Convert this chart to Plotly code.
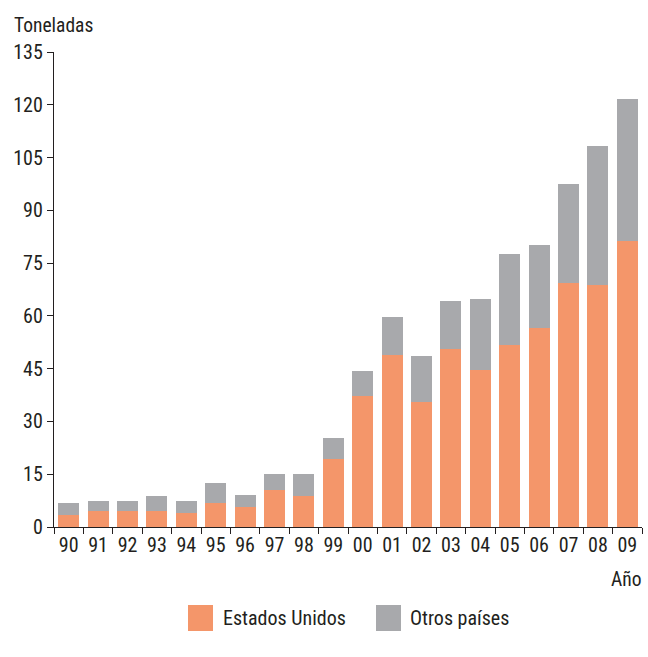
import plotly.graph_objects as go

years = ["90", "91", "92", "93", "94", "95", "96", "97", "98", "99",
         "00", "01", "02", "03", "04", "05", "06", "07", "08", "09"]
estados_unidos = [3.3, 4.5, 4.5, 4.5, 3.9, 6.9, 5.6, 10.4, 8.7, 19.3,
                  37.3, 48.9, 35.6, 50.6, 44.7, 51.7, 56.6, 69.3, 68.8, 81.2]
otros_paises = [3.6, 3.0, 3.0, 4.2, 3.6, 5.5, 3.6, 4.8, 6.5, 5.9,
                7.1, 10.9, 13.0, 13.7, 20.2, 25.9, 23.6, 28.2, 39.5, 40.5]
y_ticks = [0, 15, 30, 45, 60, 75, 90, 105, 120, 135]

ORANGE = "#F4966A"
GRAY = "#A8A9AC"
TEXT = "#231F20"
FONT = "Liberation Sans Narrow, Roboto Condensed, DejaVu Sans Condensed, Liberation Sans, sans-serif"

def f(size):
    return dict(family=FONT, color=TEXT, size=size)

fig = go.Figure()
fig.add_trace(go.Bar(x=years, y=estados_unidos, name="Estados Unidos",
                     marker=dict(color=ORANGE, line=dict(width=0)), showlegend=False))
fig.add_trace(go.Bar(x=years, y=otros_paises, name="Otros países",
                     marker=dict(color=GRAY, line=dict(width=0)), showlegend=False))

W, H = 648, 657
L, R, T, B = 54, 6, 52, 130
pw, ph = W - L - R, H - T - B

def px(x):
    return (x - L) / pw

def py(y):
    return (H - B - y) / ph

fig.update_layout(
    width=W, height=H,
    barmode="stack", bargap=0.28,
    plot_bgcolor="white", paper_bgcolor="white",
    margin=dict(l=L, r=R, t=T, b=B),
    font=f(20),
    xaxis=dict(
        type="category", range=[-0.5, 19.5], tickson="boundaries", tickangle=0,
        showline=True, linecolor=TEXT, linewidth=1.3,
        ticks="outside", ticklen=6, tickcolor=TEXT, tickwidth=1.3,
        showgrid=False, tickfont=f(20),
    ),
    yaxis=dict(
        range=[0, 135], tickvals=y_ticks, showline=True, linecolor=TEXT, linewidth=1.3,
        ticks="outside", ticklen=6, tickcolor=TEXT, tickwidth=1.3,
        showgrid=False, zeroline=False, tickfont=f(20),
    ),
)

annotations = [
    dict(text="Toneladas", x=px(12), y=py(25), xref="paper", yref="paper",
         xanchor="left", yanchor="middle", showarrow=False, font=f(19.5)),
    dict(text="Año", x=px(643), y=py(579), xref="paper", yref="paper",
         xanchor="right", yanchor="middle", showarrow=False, font=f(19.5)),
    dict(text="Estados Unidos", x=px(221), y=py(618), xref="paper", yref="paper",
         xanchor="left", yanchor="middle", showarrow=False, font=f(20)),
    dict(text="Otros países", x=px(408), y=py(618), xref="paper", yref="paper",
         xanchor="left", yanchor="middle", showarrow=False, font=f(20)),
]
shapes = [
    dict(type="rect", xref="paper", yref="paper", x0=px(188), x1=px(213),
         y0=py(631), y1=py(605), fillcolor=ORANGE, line=dict(width=0)),
    dict(type="rect", xref="paper", yref="paper", x0=px(376), x1=px(401),
         y0=py(631), y1=py(605), fillcolor=GRAY, line=dict(width=0)),
]
fig.update_layout(annotations=annotations, shapes=shapes)

post = (
    "document.body.style.margin='0';"
    "var s=document.createElement('style');"
    "s.textContent='.main-svg text{font-stretch:condensed !important;}';"
    "document.head.appendChild(s);"
)
fig.write_html("out.html", post_script=post, config={"displayModeBar": False})
